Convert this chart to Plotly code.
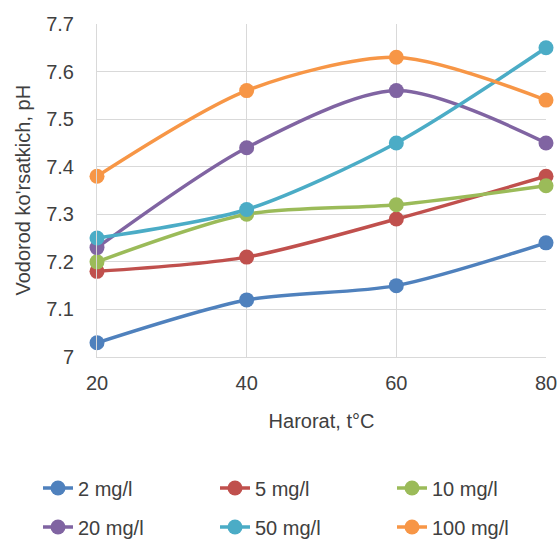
import plotly.graph_objects as go

temps = [20, 40, 60, 80]
series_names = ["2 mg/l", "5 mg/l", "10 mg/l", "20 mg/l", "50 mg/l", "100 mg/l"]
ph_2 = [7.03, 7.12, 7.15, 7.24]
ph_5 = [7.18, 7.21, 7.29, 7.38]
ph_10 = [7.20, 7.30, 7.32, 7.36]
ph_20 = [7.23, 7.44, 7.56, 7.45]
ph_50 = [7.25, 7.31, 7.45, 7.65]
ph_100 = [7.38, 7.56, 7.63, 7.54]
y_ticks = [7, 7.1, 7.2, 7.3, 7.4, 7.5, 7.6, 7.7]
y_tick_labels = ["7", "7.1", "7.2", "7.3", "7.4", "7.5", "7.6", "7.7"]

colors = ["#4F81BD", "#C0504D", "#9BBB59", "#8064A2", "#4BACC6", "#F79646"]
all_series = [ph_2, ph_5, ph_10, ph_20, ph_50, ph_100]

fig = go.Figure()
for i, (name, vals, c) in enumerate(zip(series_names, all_series, colors)):
    fig.add_trace(go.Scatter(
        x=temps, y=vals, name=name, mode="lines+markers",
        line=dict(color=c, width=3.5, shape="spline", smoothing=0.8),
        marker=dict(color=c, size=15),
        cliponaxis=False,
        legend="legend" if i < 3 else "legend2",
    ))

font = "Liberation Sans, Arial, sans-serif"
txt = "#404040"
leg_common = dict(
    orientation="h", xref="paper", x=-0.1314, xanchor="left",
    yref="paper", yanchor="middle",
    entrywidth=132, entrywidthmode="pixels",
    font=dict(size=20, family=font, color=txt),
    itemwidth=30, bgcolor="rgba(0,0,0,0)",
)
fig.update_layout(
    width=558, height=541,
    margin=dict(l=97, r=12, t=24, b=184, autoexpand=False),
    paper_bgcolor="white", plot_bgcolor="white",
    font=dict(family=font, color=txt),
    showlegend=True,
    legend=dict(leg_common, y=-0.3934),
    legend2=dict(leg_common, y=-0.5105),
    annotations=[dict(
        text="Vodorod ko'rsatkich, pH", textangle=-90,
        xref="paper", yref="paper", x=-0.167, y=0.5,
        xanchor="center", yanchor="middle", showarrow=False,
        font=dict(size=20, family=font, color=txt),
    )],
)
fig.update_xaxes(
    range=[20, 80], tickvals=temps, ticktext=[str(t) for t in temps],
    showgrid=True, gridcolor="#D9D9D9", gridwidth=1,
    showline=True, linecolor="#D9D9D9", mirror=False,
    zeroline=False, ticks="", ticklabelstandoff=8,
    tickfont=dict(size=20, family=font, color=txt),
    title=dict(text="Harorat, t°C", font=dict(size=20, family=font, color=txt), standoff=20),
)
fig.update_yaxes(
    range=[7, 7.7], tickvals=y_ticks, ticktext=y_tick_labels,
    showgrid=True, gridcolor="#D9D9D9", gridwidth=1,
    showline=True, linecolor="#D9D9D9",
    zeroline=False, ticks="", ticklabelstandoff=18,
    tickfont=dict(size=20, family=font, color=txt),
)

fig.write_html(
    "out.html",
    config={"displayModeBar": False},
    post_script="document.body.style.margin='0';document.body.style.overflow='hidden';",
)
